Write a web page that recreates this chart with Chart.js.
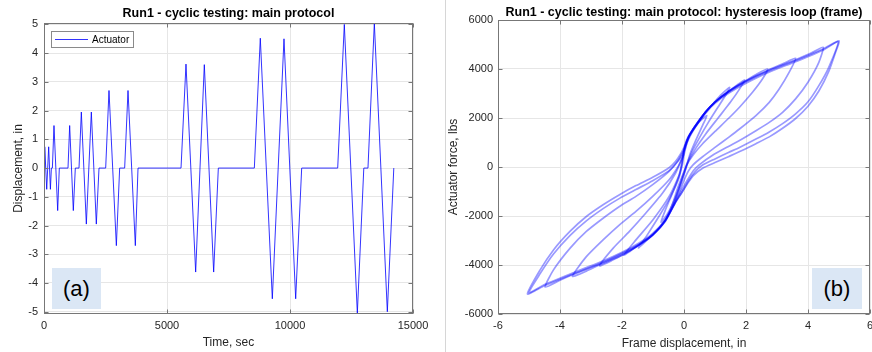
<!DOCTYPE html>
<html>
<head>
<meta charset="utf-8">
<script src="https://cdn.jsdelivr.net/npm/chart.js@4/dist/chart.umd.min.js"></script>
<style>
  body { margin: 0; width: 872px; height: 352px; background: #fff; position: relative; overflow: hidden; }
  .panel { position: absolute; top: 0; height: 352px; }
  .sep { position: absolute; left: 445px; top: 0; width: 1px; height: 352px; background: #d6d6d6; }
  .tag {
    position: absolute; background: #dbe7f5; color: #000;
    font: 22px 'Liberation Sans', Arial, sans-serif;
    display: flex; align-items: center; justify-content: center;
  }
</style>
</head>
<body>
<div class="panel" style="left:0;width:440px"><canvas id="timeChart" width="440" height="352"></canvas></div>
<div class="sep"></div>
<div class="panel" style="left:446px;width:426px"><canvas id="loopChart" width="426" height="352"></canvas></div>
<div class="tag" style="left:52px;top:268px;width:49px;height:41px">(a)</div>
<div class="tag" style="left:812px;top:268px;width:50px;height:41px">(b)</div>

<script>
// ---- (a) displacement history ----
const timeSec = [0, 30, 110, 190, 260, 300, 340, 406, 556, 623, 976, 1043, 1192, 1273, 1423,
  1518, 1721, 1924, 2127, 2236, 2507, 2642, 2941, 3076, 3279, 3415, 3713, 3822, 5570,
  5772, 6165, 6517, 6897, 7087, 8550, 8793, 9281, 9756, 10231, 10475, 11939,
  12208, 12737, 13000, 13170, 13428, 13957, 14220];
const dispIn = [0, 0.74, -0.74, 0.74, -0.74, 0, 0, 1.48, -1.48, 0, 0, 1.48, -1.48, 0, 0,
  1.95, -1.95, 1.95, -1.95, 0, 0, 2.7, -2.7, 0, 0, 2.7, -2.7, 0, 0,
  3.62, -3.62, 3.6, -3.62, 0, 0, 4.52, -4.55, 4.5, -4.55, 0, 0,
  5.0, -5.05, 0, 0, 5.05, -5.0, 0];
const timeTicks = [0, 5000, 10000, 15000];
const dispTicks = [-5, -4, -3, -2, -1, 0, 1, 2, 3, 4, 5];

// ---- (b) hysteresis loops: [frame displacement (in), actuator force (lbs)] ----
const loop074 = [[0.0, 600], [0.2, 1350], [0.45, 1800], [0.74, 2100], [0.6, 1700], [0.4, 1150],
  [0.2, 550], [0.05, -100], [-0.1, -650], [-0.35, -1450], [-0.55, -1950], [-0.74, -2250],
  [-0.6, -1750], [-0.4, -1150], [-0.2, -500], [-0.05, 100], [0.0, 600]];
const loop147 = [[0.0, 650], [0.15, 1250], [0.4, 1700], [0.7, 2250], [0.95, 2600], [1.2, 2950],
  [1.47, 3250], [1.35, 2950], [1.1, 2450], [0.8, 1850], [0.5, 1200], [0.25, 600], [0.05, 0],
  [-0.1, -600], [-0.3, -1400], [-0.6, -2150], [-1.0, -2750], [-1.25, -3050], [-1.47, -3300],
  [-1.2, -2800], [-0.8, -2000], [-0.45, -1250], [-0.15, -400], [0.0, 650]];
const loop195 = [[0.0, 700], [0.15, 1250], [0.4, 1750], [0.7, 2250], [1.0, 2650], [1.45, 3100],
  [1.95, 3550], [1.8, 3200], [1.5, 2650], [1.1, 2000], [0.7, 1350], [0.4, 800], [0.15, 250],
  [0.0, -200], [-0.2, -850], [-0.4, -1600], [-0.65, -2250], [-1.0, -2750], [-1.45, -3170],
  [-1.94, -3600], [-1.55, -2975], [-1.0, -2150], [-0.48, -1200], [-0.15, -300], [0.0, 700]];
const loop270 = [[-0.05, 400], [0.05, 900], [0.3, 1550], [0.7, 2250], [1.0, 2650], [1.45, 3100],
  [2.0, 3530], [2.35, 3800], [2.7, 4000], [2.53, 3590], [2.21, 3050], [1.79, 2440], [1.45, 2000],
  [1.0, 1450], [0.6, 950], [0.3, 500], [0.1, 100], [0.0, -300], [-0.15, -900], [-0.35, -1550],
  [-0.6, -2200], [-1.0, -2760], [-1.45, -3180], [-1.9, -3530], [-2.3, -3800], [-2.72, -4030],
  [-2.29, -3320], [-1.76, -2630], [-1.23, -1880], [-0.69, -1065], [-0.27, -245], [-0.05, 400]];
const loop360 = [[0.0, 500], [0.1, 1000], [0.35, 1600], [0.7, 2250], [1.0, 2650], [1.45, 3100],
  [2.0, 3520], [2.7, 3950], [3.2, 4220], [3.6, 4440], [3.39, 3860], [3.07, 3180], [2.75, 2640],
  [2.32, 2100], [1.79, 1550], [1.45, 1220], [1.0, 800], [0.6, 420], [0.3, 100], [0.15, -150],
  [0.0, -550], [-0.2, -1200], [-0.45, -1850], [-0.7, -2350], [-1.0, -2780], [-1.45, -3200],
  [-2.0, -3600], [-2.7, -3980], [-3.15, -4250], [-3.6, -4460], [-3.15, -3660], [-2.61, -2975],
  [-2.08, -2360], [-1.55, -1815], [-1.01, -1200], [-0.48, -520], [-0.2, 0], [0.0, 500]];
const loop450 = [[0.0, 700], [0.1, 1100], [0.35, 1650], [0.7, 2250], [1.0, 2650], [1.45, 3080],
  [2.0, 3500], [2.7, 3930], [3.6, 4380], [4.1, 4650], [4.49, 4890], [4.35, 4270], [4.0, 3460],
  [3.6, 2780], [3.18, 2230], [2.75, 1820], [2.32, 1480], [1.79, 1080], [1.45, 850], [0.91, 470],
  [0.5, 100], [0.3, -150], [0.1, -550], [-0.1, -1000], [-0.3, -1500], [-0.6, -2200],
  [-1.0, -2760], [-1.45, -3170], [-2.0, -3550], [-2.7, -3950], [-3.6, -4400], [-4.0, -4620],
  [-4.48, -4900], [-4.21, -4200], [-3.68, -3320], [-3.15, -2630], [-2.61, -2090], [-2.08, -1610],
  [-1.55, -1200], [-1.01, -720], [-0.48, -180], [-0.2, 250], [0.0, 700]];
const loop500a = [[0.0, 800], [0.1, 1150], [0.35, 1650], [0.7, 2250], [1.0, 2650], [1.45, 3070],
  [2.0, 3480], [2.7, 3900], [3.6, 4350], [4.5, 4830], [5.0, 5150], [4.89, 4680], [4.67, 3900],
  [4.35, 3100], [4.0, 2480], [3.6, 1980], [3.18, 1580], [2.75, 1230], [2.32, 950], [1.89, 680],
  [1.45, 430], [1.0, 180], [0.6, -50], [0.3, -350], [0.1, -700], [-0.1, -1100], [-0.3, -1500],
  [-0.6, -2200], [-1.0, -2750], [-1.45, -3150], [-2.0, -3520], [-2.7, -3930], [-3.6, -4380],
  [-4.5, -4850], [-5.05, -5180], [-4.64, -4200], [-4.21, -3385], [-3.68, -2630], [-3.15, -2020],
  [-2.61, -1540], [-2.08, -1130], [-1.55, -760], [-1.01, -420], [-0.48, -30], [-0.27, 230],
  [-0.1, 550], [0.0, 800]];
const loop500b = [[0.0, 750], [0.1, 1100], [0.35, 1600], [0.7, 2200], [1.0, 2600], [1.45, 3020],
  [2.0, 3420], [2.7, 3850], [3.6, 4300], [4.5, 4780], [4.97, 5110], [4.67, 4070], [4.35, 3320],
  [4.0, 2660], [3.6, 2170], [3.18, 1770], [2.75, 1430], [2.32, 1140], [1.79, 800], [1.45, 600],
  [1.0, 330], [0.6, 80], [0.35, -200], [0.15, -550], [-0.05, -1000], [-0.3, -1500], [-0.6, -2150],
  [-1.0, -2700], [-1.45, -3100], [-2.0, -3480], [-2.7, -3880], [-3.6, -4330], [-4.5, -4800],
  [-5.0, -5130], [-4.64, -4350], [-4.21, -3550], [-3.68, -2800], [-3.15, -2200], [-2.61, -1700],
  [-2.08, -1280], [-1.55, -920], [-1.01, -560], [-0.48, -150], [-0.25, 150], [-0.05, 500],
  [0.0, 750]];
const loops = [loop074, loop147, loop195, loop270, loop360, loop450, loop500a, loop500b];
const frameTicks = [-6, -4, -2, 0, 2, 4, 6];
const forceTicks = [-6000, -4000, -2000, 0, 2000, 4000, 6000];

const FONT = "'Liberation Sans', Arial, Helvetica, sans-serif";
const AXIS_COLOR = "#262626";
const GRID_COLOR = "#e6e6e6";
Chart.defaults.font.family = FONT;
Chart.defaults.color = AXIS_COLOR;
Chart.defaults.animation = false;

// matlab style box with inward tick marks
const boxPlugin = {
  id: "matlabBox",
  afterDatasetsDraw(chart) {
    const { ctx, chartArea: a, scales: { x, y } } = chart;
    const L = Math.round(a.left) + 0.5, R = Math.round(a.right) - 0.5;
    const T = Math.round(a.top) + 0.5, B = Math.round(a.bottom) - 0.5;
    ctx.save();
    ctx.strokeStyle = "#777";
    ctx.lineWidth = 1;
    ctx.beginPath();
    x.ticks.forEach((t, i) => {
      const p = Math.round(x.getPixelForTick(i)) + 0.5;
      ctx.moveTo(p, B); ctx.lineTo(p, B - 4);
      ctx.moveTo(p, T); ctx.lineTo(p, T + 4);
    });
    y.ticks.forEach((t, i) => {
      const p = Math.round(y.getPixelForTick(i)) + 0.5;
      ctx.moveTo(L, p); ctx.lineTo(L + 4, p);
      ctx.moveTo(R, p); ctx.lineTo(R - 4, p);
    });
    ctx.stroke();
    ctx.strokeRect(L, T, R - L, B - T);
    ctx.restore();
  },
};

// legend box inside the axes (upper left)
const insideLegend = {
  id: "insideLegend",
  afterDraw(chart) {
    const ctx = chart.ctx;
    const ds = chart.data.datasets[0];
    ctx.save();
    ctx.fillStyle = "#fff";
    ctx.fillRect(51, 31, 82, 16);
    ctx.strokeStyle = "#8a8a8a";
    ctx.lineWidth = 1;
    ctx.strokeRect(51.5, 31.5, 82, 16);
    ctx.strokeStyle = ds.borderColor;
    ctx.beginPath();
    ctx.moveTo(55, 39.5); ctx.lineTo(88, 39.5);
    ctx.stroke();
    ctx.fillStyle = "#000";
    ctx.font = "10px " + FONT;
    ctx.textBaseline = "middle";
    ctx.fillText(ds.label, 92, 40);
    ctx.restore();
  },
};

function fixWidth(w) {
  return s => { s.width = w; s.paddingTop = 0; s.paddingBottom = 0; };
}
function fixHeight(h) {
  return s => { s.height = h; s.paddingLeft = 0; s.paddingRight = 0; };
}
function useTicks(values) {
  return s => { s.ticks = values.map(v => ({ value: v })); };
}

new Chart(document.getElementById("timeChart"), {
  type: "scatter",
  data: {
    datasets: [{
      label: "Actuator",
      data: timeSec.map((t, i) => ({ x: t, y: dispIn[i] })),
      showLine: true,
      borderColor: "rgba(0,0,255,0.8)",
      borderWidth: 1,
      pointRadius: 0,
      tension: 0,
    }],
  },
  options: {
    responsive: false,
    layout: { padding: { left: 0, right: 27, top: 0, bottom: 0 } },
    plugins: {
      legend: { display: false },
      tooltip: { enabled: false },
      title: {
        display: true, fullSize: false,
        text: "Run1 - cyclic testing: main protocol",
        color: "#000",
        font: { size: 12.5, weight: "bold" },
        padding: { top: 6.5, bottom: 1.5 },
      },
    },
    scales: {
      x: {
        type: "linear", min: 0, max: 15000,
        afterBuildTicks: useTicks(timeTicks),
        afterFit: fixHeight(38),
        grid: { color: GRID_COLOR, drawTicks: false },
        border: { display: false },
        ticks: { padding: 5, font: { size: 11 }, maxRotation: 0, autoSkip: false, callback: v => String(v) },
        title: { display: true, text: "Time, sec", font: { size: 12 }, padding: { top: 0, bottom: 2 } },
      },
      y: {
        type: "linear", min: -5.08, max: 5.05,
        afterBuildTicks: useTicks(dispTicks),
        afterFit: fixWidth(44),
        grid: { color: GRID_COLOR, drawTicks: false },
        border: { display: false },
        ticks: { padding: 6, font: { size: 11 }, autoSkip: false, callback: v => String(v) },
        title: { display: true, text: "Displacement, in", font: { size: 12 }, padding: { top: 11, bottom: 0 } },
      },
    },
  },
  plugins: [boxPlugin, insideLegend],
});

new Chart(document.getElementById("loopChart"), {
  type: "scatter",
  data: {
    datasets: loops.map(loop => ({
      data: loop.map(([d, f]) => ({ x: d, y: f })),
      showLine: true,
      borderColor: "rgba(0,0,255,0.4)",
      borderWidth: 1.7,
      pointRadius: 0,
      tension: 0.2,
    })),
  },
  options: {
    responsive: false,
    layout: { padding: { left: 0, right: 2, top: 0, bottom: 0 } },
    plugins: {
      legend: { display: false },
      tooltip: { enabled: false },
      title: {
        display: true, fullSize: false,
        text: "Run1 - cyclic testing: main protocol: hysteresis loop (frame)",
        color: "#000",
        font: { size: 12.5, weight: "bold" },
        padding: { top: 4.8, bottom: 0.2 },
      },
    },
    scales: {
      x: {
        type: "linear", min: -6, max: 6,
        afterBuildTicks: useTicks(frameTicks),
        afterFit: fixHeight(38),
        grid: { color: GRID_COLOR, drawTicks: false },
        border: { display: false },
        ticks: { padding: 5, font: { size: 11 }, maxRotation: 0, autoSkip: false, callback: v => String(v) },
        title: { display: true, text: "Frame displacement, in", font: { size: 12 }, padding: { top: 0, bottom: 1.5 } },
      },
      y: {
        type: "linear", min: -6000, max: 6000,
        afterBuildTicks: useTicks(forceTicks),
        afterFit: fixWidth(52),
        grid: { color: GRID_COLOR, drawTicks: false },
        border: { display: false },
        ticks: { padding: 5, font: { size: 11 }, autoSkip: false, callback: v => String(v) },
        title: { display: true, text: "Actuator force, lbs", font: { size: 12 }, padding: { top: 0, bottom: 0 } },
      },
    },
  },
  plugins: [boxPlugin],
});
</script>
</body>
</html>
